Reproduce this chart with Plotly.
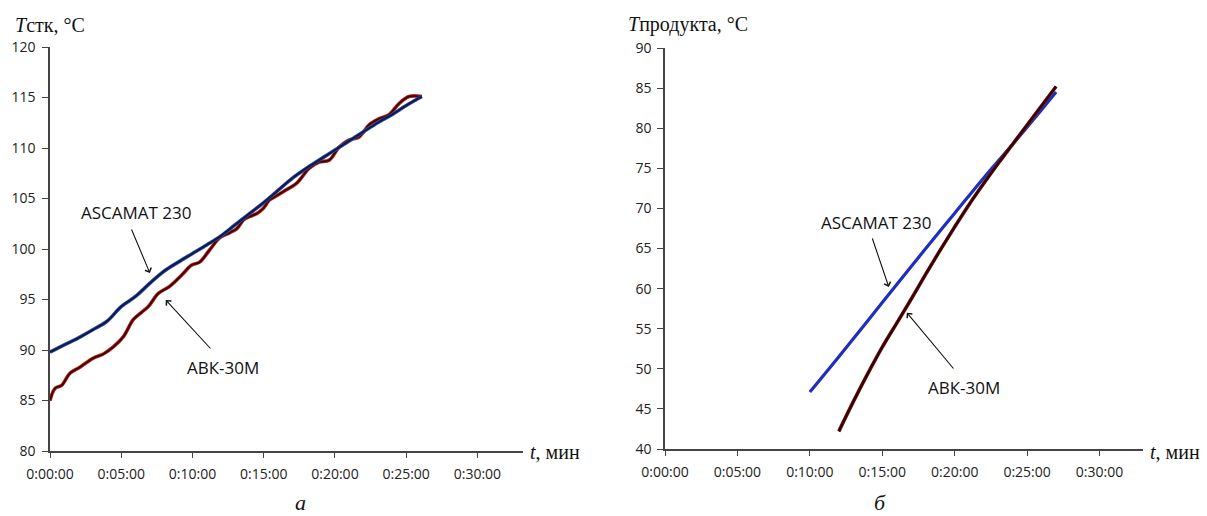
import plotly.graph_objects as go

# ---------- data (time in minutes) ----------
# panel a: wall temperature
asc_t_a = [0, 1, 2, 3, 4, 5, 6, 7, 8, 9, 10, 11, 12, 13, 14, 15, 16, 17, 18, 19, 20, 21, 22, 23, 24, 25, 26.1]
asc_v_a = [89.8, 90.5, 91.2, 92.0, 92.85, 94.3, 95.3, 96.6, 97.8, 98.7, 99.55, 100.4, 101.3, 102.4, 103.5,
           104.6, 105.8, 107.0, 108.0, 108.9, 109.8, 110.7, 111.6, 112.5, 113.3, 114.2, 115.1]

abk_t_a = [0, 0.35, 0.82, 1.4, 2.1, 3.04, 3.74, 4.44, 5.14, 5.84, 6.31, 6.9, 7.6, 8.4, 9.23, 9.93, 10.5,
           11.2, 11.9, 12.6, 13.1, 13.6, 14.0, 14.5, 14.96, 15.4, 15.7, 16.4, 17.3, 18.2, 18.9, 19.6, 20.3,
           21.0, 21.7, 22.4, 23.1, 23.8, 24.5, 25.2, 26.1]
abk_v_a = [85.0, 86.2, 86.5, 87.7, 88.3, 89.2, 89.6, 90.3, 91.3, 93.0, 93.6, 94.3, 95.6, 96.3, 97.4, 98.4, 98.7,
           99.9, 101.1, 101.6, 102.0, 102.9, 103.2, 103.5, 104.0, 104.85, 105.1, 105.7, 106.5, 108.0, 108.6,
           108.8, 110.1, 110.8, 111.1, 112.3, 112.9, 113.3, 114.4, 115.1, 115.1]

# panel b: product temperature
asc_t_b = [10, 12, 14, 16, 18, 20, 22, 24, 26, 27]
asc_v_b = [47.1, 51.5, 56.0, 60.5, 65.0, 69.4, 73.8, 78.0, 82.3, 84.5]

abk_t_b = [12, 13, 14, 15, 16, 17, 18, 19, 20, 21, 22, 23, 24, 25, 26, 27]
abk_v_b = [42.2, 45.9, 49.4, 52.7, 55.7, 58.7, 61.8, 64.8, 67.7, 70.5, 73.1, 75.6, 78.0, 80.4, 82.8, 85.2]

tick_vals_x = [0, 5, 10, 15, 20, 25, 30]
tick_text_x = ["0:00:00", "0:05:00", "0:10:00", "0:15:00", "0:20:00", "0:25:00", "0:30:00"]

W, H = 1207, 516
fig = go.Figure()

# panel a lines (colored halo + dark core)
fig.add_trace(go.Scatter(x=abk_t_a, y=abk_v_a, mode="lines", line=dict(color="#c8281e", width=3.6, shape="spline"),
                         xaxis="x", yaxis="y", hoverinfo="skip"))
fig.add_trace(go.Scatter(x=abk_t_a, y=abk_v_a, mode="lines", line=dict(color="#3a0606", width=2, shape="spline"),
                         xaxis="x", yaxis="y"))
fig.add_trace(go.Scatter(x=asc_t_a, y=asc_v_a, mode="lines", line=dict(color="#2f4fb0", width=3.6, shape="spline"),
                         xaxis="x", yaxis="y", hoverinfo="skip"))
fig.add_trace(go.Scatter(x=asc_t_a, y=asc_v_a, mode="lines", line=dict(color="#0e1a45", width=2, shape="spline"),
                         xaxis="x", yaxis="y"))

# panel b lines
fig.add_trace(go.Scatter(x=asc_t_b, y=asc_v_b, mode="lines", line=dict(color="#1e2fc0", width=3.2, shape="spline"),
                         xaxis="x2", yaxis="y2"))
fig.add_trace(go.Scatter(x=abk_t_b, y=abk_v_b, mode="lines", line=dict(color="#8a1a14", width=3.6, shape="spline"),
                         xaxis="x2", yaxis="y2", hoverinfo="skip"))
fig.add_trace(go.Scatter(x=abk_t_b, y=abk_v_b, mode="lines", line=dict(color="#2e0606", width=2.4, shape="spline"),
                         xaxis="x2", yaxis="y2"))

tickfont = dict(family="Open Sans", size=14, color="#222")
axis_common = dict(showgrid=False, zeroline=False, showline=True, linecolor="#444", linewidth=1.5,
                   ticks="outside", tickcolor="#444", tickwidth=1.3, tickfont=tickfont, automargin=False)

fig.update_layout(
    template="none",
    width=W, height=H, margin=dict(l=0, r=0, t=0, b=0, pad=0),
    paper_bgcolor="white", plot_bgcolor="white", showlegend=False,
    xaxis=dict(domain=[50 / W, 523 / W], range=[0, 33.2], tickvals=tick_vals_x, ticktext=tick_text_x,
               ticklen=5, anchor="y", ticklabelstandoff=4, **axis_common),
    yaxis=dict(domain=[1 - 451 / H, 1 - 47 / H], range=[80, 120], dtick=5, ticklen=6, anchor="x",
               ticklabelstandoff=4, **axis_common),
    xaxis2=dict(domain=[665 / W, 1143 / W], range=[0, 33.0], tickvals=tick_vals_x, ticktext=tick_text_x,
                ticklen=5, anchor="y2", ticklabelstandoff=4, **axis_common),
    yaxis2=dict(domain=[1 - 449 / H, 1 - 48 / H], range=[40, 90], dtick=5, ticklen=6, anchor="x2",
                ticklabelstandoff=3, **axis_common),
)

serif = "Liberation Serif"
lab_font = dict(family="Open Sans", size=17, color="#111")
ann = []
# axis titles
ann.append(dict(text="<i>T</i>стк, °C", x=13 / W, y=1 - 25 / H, xref="paper", yref="paper",
                xanchor="left", yanchor="middle", showarrow=False, font=dict(family=serif, size=20, color="#111")))
ann.append(dict(text="<i>T</i>продукта, °C", x=626 / W, y=1 - 25 / H, xref="paper", yref="paper",
                xanchor="left", yanchor="middle", showarrow=False, font=dict(family=serif, size=20, color="#111")))
ann.append(dict(text="<i>t</i>, мин", x=528 / W, y=1 - 452 / H, xref="paper", yref="paper",
                xanchor="left", yanchor="middle", showarrow=False, font=dict(family=serif, size=20, color="#111")))
ann.append(dict(text="<i>t</i>, мин", x=1148 / W, y=1 - 452 / H, xref="paper", yref="paper",
                xanchor="left", yanchor="middle", showarrow=False, font=dict(family=serif, size=20, color="#111")))
ann.append(dict(text="<i>а</i>", x=300 / W, y=1 - 502 / H, xref="paper", yref="paper",
                xanchor="center", yanchor="middle", showarrow=False, font=dict(family=serif, size=22, color="#111")))
ann.append(dict(text="<i>б</i>", x=880 / W, y=1 - 502 / H, xref="paper", yref="paper",
                xanchor="center", yanchor="middle", showarrow=False, font=dict(family=serif, size=22, color="#111")))

# series labels with arrows, panel a
ann.append(dict(text="ASCAMAT 230", x=6.1, y=103.66, xref="x", yref="y", showarrow=False, font=lab_font))
ann.append(dict(text="", x=7.01, y=97.62, ax=5.68, ay=102.08, xref="x", yref="y", axref="x", ayref="y",
                showarrow=True, arrowhead=4, arrowsize=1.2, arrowwidth=1.1, arrowcolor="#111"))
ann.append(dict(text="АВК-30М", x=12.13, y=88.3, xref="x", yref="y", showarrow=False, font=lab_font))
ann.append(dict(text="", x=8.13, y=94.95, ax=11.36, ay=90.0, xref="x", yref="y", axref="x", ayref="y",
                showarrow=True, arrowhead=4, arrowsize=1.2, arrowwidth=1.1, arrowcolor="#111"))

# panel b
ann.append(dict(text="ASCAMAT 230", x=14.62, y=68.3, xref="x2", yref="y2", showarrow=False, font=lab_font))
ann.append(dict(text="", x=15.45, y=60.2, ax=14.28, ay=66.43, xref="x2", yref="y2", axref="x2", ayref="y2",
                showarrow=True, arrowhead=4, arrowsize=1.2, arrowwidth=1.1, arrowcolor="#111"))
ann.append(dict(text="АВК-30М", x=20.62, y=47.73, xref="x2", yref="y2", showarrow=False, font=lab_font))
ann.append(dict(text="", x=16.7, y=57.0, ax=20.0, ay=49.85, xref="x2", yref="y2", axref="x2", ayref="y2",
                showarrow=True, arrowhead=4, arrowsize=1.2, arrowwidth=1.1, arrowcolor="#111"))

fig.update_layout(annotations=ann)
fig.write_html("out.html")
